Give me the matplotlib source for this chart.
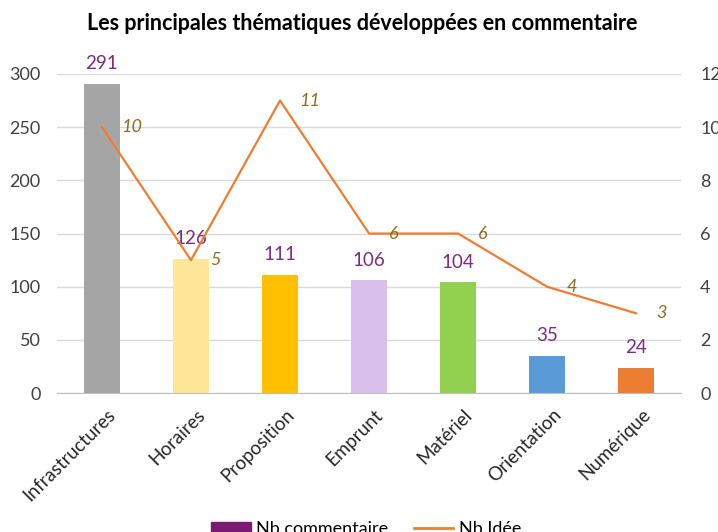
import matplotlib.pyplot as plt
from matplotlib.transforms import ScaledTranslation

plt.rcParams['font.family'] = ['Lato', 'DejaVu Sans']

categories = ['Infrastructures', 'Horaires', 'Proposition', 'Emprunt',
              'Matériel', 'Orientation', 'Numérique']
nb_commentaire = [291, 126, 111, 106, 104, 35, 24]
nb_idee = [10, 5, 11, 6, 6, 4, 3]
bar_colors = ['#A5A5A5', '#FFE699', '#FFC000', '#D9BFEC', '#92D050', '#5B9BD5', '#ED7D31']

fig = plt.figure(figsize=(7.18, 5.32), dpi=100)
ax = fig.add_axes([0.080, 0.261, 0.868, 0.600])
x = list(range(len(categories)))

ax.bar(x, nb_commentaire, width=0.4, color=bar_colors, zorder=2)
for xi, v in zip(x, nb_commentaire):
    ax.text(xi, v + 11, str(v), ha='center', va='bottom', fontsize=13.5, color='#7B2C80')

ax.set_ylim(0, 300)
ax.set_xlim(-0.5, len(categories) - 0.5)
ax.set_yticks(range(0, 301, 50))
ax.grid(axis='y', color='#D9D9D9', lw=1, zorder=0)
for s in ['top', 'right', 'left']:
    ax.spines[s].set_visible(False)
ax.spines['bottom'].set_color('#BFBFBF')
ax.tick_params(axis='both', length=0, labelsize=13, colors='#404040')
ax.tick_params(axis='y', pad=12)
ax.set_xticks(x)
ax.set_xticklabels(categories, rotation=45, ha='right', rotation_mode='anchor',
                   fontsize=13.5, color='#262626')
shift = ScaledTranslation(5 / 100, -8 / 100, fig.dpi_scale_trans)
for lbl in ax.get_xticklabels():
    lbl.set_transform(lbl.get_transform() + shift)

ax2 = ax.twinx()
ax2.plot(x, nb_idee, color='#ED7D31', lw=1.6, zorder=3)
for xi, v in zip(x, nb_idee):
    ax2.text(xi + 0.22, v, str(v), ha='left', va='center', fontsize=13,
             style='italic', color='#8C6D1F')
ax2.set_ylim(0, 12)
ax2.set_yticks(range(0, 13, 2))
for s in ax2.spines.values():
    s.set_visible(False)
ax2.tick_params(axis='y', length=0, labelsize=13, colors='#404040', pad=14)

fig.text(0.505, 0.955, 'Les principales thématiques développées en commentaire',
         ha='center', va='center', fontsize=15.5, fontweight='bold', color='#000000')

handles = [plt.Rectangle((0, 0), 1, 1, color='#7B1A72'),
           plt.Line2D([0], [0], color='#ED7D31', lw=2)]
fig.legend(handles, ['Nb commentaire', 'Nb Idée'], loc='center', ncol=2,
           bbox_to_anchor=(0.51, 0.005), frameon=False, fontsize=13,
           handlelength=2.2, handletextpad=0.3, columnspacing=1.4)

fig.savefig('out.png', dpi=100)
